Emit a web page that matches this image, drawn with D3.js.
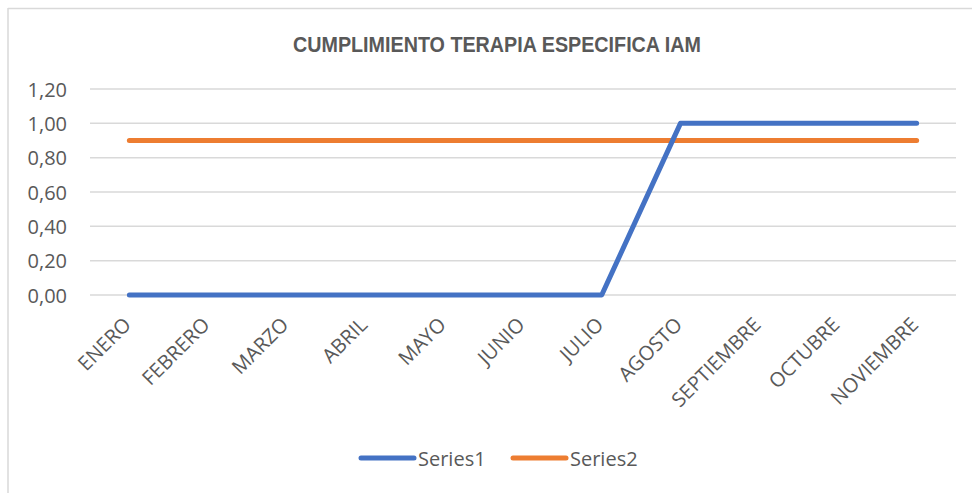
<!DOCTYPE html>
<html><head><meta charset="utf-8">
<script src="https://cdn.jsdelivr.net/npm/d3@7"></script>
<style>body{margin:0;background:#fff}svg{display:block}</style>
</head><body>
<svg id="c" width="972" height="493"></svg>
<script>
const title = "CUMPLIMIENTO TERAPIA ESPECIFICA IAM";
const categories = ["ENERO","FEBRERO","MARZO","ABRIL","MAYO","JUNIO","JULIO","AGOSTO","SEPTIEMBRE","OCTUBRE","NOVIEMBRE"];
const series1 = [0,0,0,0,0,0,0,1,1,1,1];
const series2 = [0.9,0.9,0.9,0.9,0.9,0.9,0.9,0.9,0.9,0.9,0.9];
const seriesNames = ["Series1","Series2"];
const yTicks = [0,0.2,0.4,0.6,0.8,1.0,1.2];
const colors = ["#4472c4","#ed7d31"];

const svg = d3.select("#c");
const font = "'Open Sans', 'Noto Sans', sans-serif";
// border
svg.append("line").attr("x1",8).attr("x2",972).attr("y1",8.5).attr("y2",8.5).attr("stroke","#d9d9d9").attr("stroke-width",1.5);
svg.append("line").attr("x1",8).attr("x2",8).attr("y1",8).attr("y2",493).attr("stroke","#d9d9d9").attr("stroke-width",1.5);

const x = d3.scaleBand().domain(categories).range([90,956]);
const y = d3.scaleLinear().domain([0,1.2]).range([295,89]);

svg.append("text").attr("x",497).attr("y",51.5).attr("text-anchor","middle")
  .attr("font-family","'Liberation Sans Narrow', 'Liberation Sans', Arial, sans-serif")
  .attr("font-weight","bold").attr("font-size",22).attr("fill","#595959")
  .attr("textLength",408).attr("lengthAdjust","spacingAndGlyphs").text(title);

// gridlines
svg.append("g").selectAll("line").data(yTicks).join("line")
  .attr("x1",90).attr("x2",956).attr("y1",d=>y(d)).attr("y2",d=>y(d))
  .attr("stroke","#d9d9d9").attr("stroke-width",1.5);

const fmt = d => d3.format(".2f")(d).replace(".",",");
const yAxis = d3.axisLeft(y).tickValues(yTicks).tickFormat(fmt).tickSize(0).tickPadding(0);
const ga = svg.append("g").attr("transform","translate(67,0)").call(yAxis);
ga.select(".domain").remove();
ga.selectAll("text").attr("font-family",font).attr("font-size",20).attr("fill","#595959").attr("dy","0.35em");

const xAxis = d3.axisBottom(x).tickSize(0);
const gx = svg.append("g").attr("transform","translate(0,295)").call(xAxis);
gx.select(".domain").remove();
gx.selectAll("text").attr("font-family",font).attr("font-size",20).attr("fill","#595959")
  .attr("text-anchor","end").attr("dy",0).attr("y",0)
  .attr("transform","translate(3,31) rotate(-45)");

const line = d3.line().x((d,i)=>x(categories[i])+x.bandwidth()/2).y(d=>y(d));
[series2, series1].forEach((s,k)=>{
  const idx = k===0?1:0;
  svg.append("path").datum(s).attr("d",line).attr("fill","none")
    .attr("stroke",colors[idx]).attr("stroke-width",5).attr("stroke-linecap","round").attr("stroke-linejoin","round");
});

// legend
const leg = [{x:361,tx:418},{x:513,tx:570}];
seriesNames.forEach((n,i)=>{
  svg.append("line").attr("x1",leg[i].x).attr("x2",leg[i].x+53).attr("y1",458).attr("y2",458)
    .attr("stroke",colors[i]).attr("stroke-width",5).attr("stroke-linecap","round");
  svg.append("text").attr("x",leg[i].tx).attr("y",465.5).attr("font-family",font).attr("font-size",20)
    .attr("fill","#595959").text(n);
});
</script>
</body></html>
